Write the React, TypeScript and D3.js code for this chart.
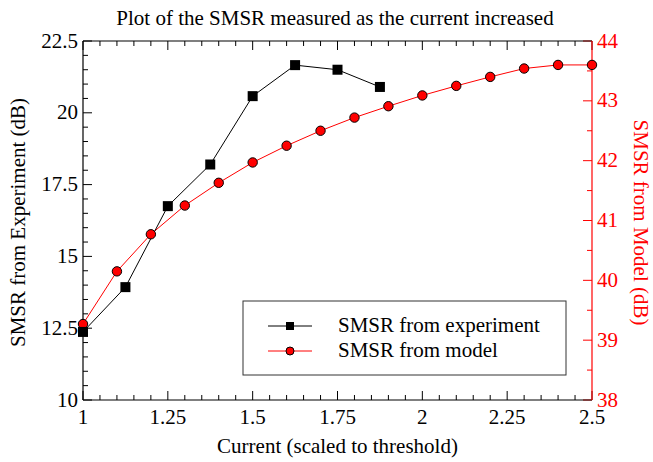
import React from "react";
import * as d3 from "d3";

const expCurrent = [1, 1.125, 1.25, 1.375, 1.5, 1.625, 1.75, 1.875];
const expSMSR = [12.37, 13.93, 16.75, 18.2, 20.58, 21.66, 21.5, 20.9];
const modelCurrent = [1, 1.1, 1.2, 1.3, 1.4, 1.5, 1.6, 1.7, 1.8, 1.9, 2.0, 2.1, 2.2, 2.3, 2.4, 2.5];
const modelSMSR = [39.27, 40.15, 40.77, 41.25, 41.63, 41.97, 42.25, 42.5, 42.72, 42.91, 43.09, 43.25, 43.4, 43.54, 43.6, 43.6];
const xTicks = [1, 1.25, 1.5, 1.75, 2, 2.25, 2.5];
const xTickLabels = ["1", "1.25", "1.5", "1.75", "2", "2.25", "2.5"];
const yLeftTicks = [10, 12.5, 15, 17.5, 20, 22.5];
const yLeftTickLabels = ["10", "12.5", "15", "17.5", "20", "22.5"];
const yRightTicks = [38, 39, 40, 41, 42, 43, 44];
const yRightTickLabels = ["38", "39", "40", "41", "42", "43", "44"];
const seriesNames = ["SMSR from experiment", "SMSR from model"];

const W = 653, H = 462;
const L = 83, R = 592, T = 41, B = 400;
const FONT = "'Liberation Serif', 'Times New Roman', serif";
const RED = "#ff0000";
const FS = 21;

export default function App() {
  const x = d3.scaleLinear().domain([1, 2.5]).range([L, R]);
  const yL = d3.scaleLinear().domain([10, 22.5]).range([B, T]);
  const yR = d3.scaleLinear().domain([38, 44]).range([B, T]);

  const expLine = d3.line<number>().x((_, i) => x(expCurrent[i])).y((d) => yL(d))(expSMSR) || "";
  const modLine = d3.line<number>().x((_, i) => x(modelCurrent[i])).y((d) => yR(d))(modelSMSR) || "";

  const xMinor = d3.range(0, 31).map((i) => 1 + i * 0.05);
  const yLMinor = d3.range(0, 26).map((i) => 10 + i * 0.5);
  const yRMinor = d3.range(0, 13).map((i) => 38 + i * 0.5);
  const isMajor = (v: number, step: number, base: number) => Math.abs(((v - base) / step) - Math.round((v - base) / step)) < 1e-6;

  const MAJ = 9, MIN = 5;
  const sq = 10;

  return (
    <svg width={W} height={H} style={{ position: "absolute", left: 0, top: 0, background: "#fff" }} fontFamily={FONT}>
      <rect x={0} y={0} width={W} height={H} fill="#fff" />
      <text x={335} y={25} textAnchor="middle" fontSize={FS} fill="#000">Plot of the SMSR measured as the current increased</text>

      {xMinor.map((v, i) => {
        const len = isMajor(v, 0.25, 1) ? MAJ : MIN;
        return (
          <g key={"xt" + i}>
            <line x1={x(v)} x2={x(v)} y1={B} y2={B - len} stroke="#000" strokeWidth={1} />
            <line x1={x(v)} x2={x(v)} y1={T} y2={T + len} stroke="#000" strokeWidth={1} />
          </g>
        );
      })}
      {yLMinor.map((v, i) => {
        const len = isMajor(v, 2.5, 10) ? MAJ : MIN;
        return <line key={"yl" + i} x1={L} x2={L + len} y1={yL(v)} y2={yL(v)} stroke="#000" strokeWidth={1} />;
      })}
      {yRMinor.map((v, i) => {
        const len = isMajor(v, 1, 38) ? MAJ : MIN;
        return <line key={"yr" + i} x1={R} x2={R - len} y1={yR(v)} y2={yR(v)} stroke={RED} strokeWidth={1} />;
      })}

      <line x1={L} x2={R} y1={T} y2={T} stroke="#000" strokeWidth={1.2} />
      <line x1={L} x2={R} y1={B} y2={B} stroke="#000" strokeWidth={1.2} />
      <line x1={L} x2={L} y1={T} y2={B} stroke="#000" strokeWidth={1.2} />
      <line x1={R} x2={R} y1={T} y2={B} stroke={RED} strokeWidth={1.2} />

      {xTicks.map((v, i) => (
        <text key={"xl" + i} x={x(v)} y={B + 24} textAnchor="middle" fontSize={FS} fill="#000">{xTickLabels[i]}</text>
      ))}
      {yLeftTicks.map((v, i) => (
        <text key={"yll" + i} x={L - 5} y={yL(v) + 6.5} textAnchor="end" fontSize={FS} fill="#000">{yLeftTickLabels[i]}</text>
      ))}
      {yRightTicks.map((v, i) => (
        <text key={"yrl" + i} x={R + 5} y={yR(v) + 6.5} textAnchor="start" fontSize={FS} fill={RED}>{yRightTickLabels[i]}</text>
      ))}

      <text x={(L + R) / 2} y={453} textAnchor="middle" fontSize={FS} fill="#000">Current (scaled to threshold)</text>
      <text transform={`translate(25, ${(T + B) / 2 + 2}) rotate(-90)`} textAnchor="middle" fontSize={FS} fill="#000">SMSR from Experiment (dB)</text>
      <text transform={`translate(634, ${(T + B) / 2 + 2}) rotate(90)`} textAnchor="middle" fontSize={FS} fill={RED}>SMSR from Model (dB)</text>

      <path d={modLine} fill="none" stroke={RED} strokeWidth={1} />
      <path d={expLine} fill="none" stroke="#000" strokeWidth={1} />
      {modelSMSR.map((v, i) => (
        <circle key={"mc" + i} cx={x(modelCurrent[i])} cy={yR(v)} r={4.7} fill={RED} stroke="#000" strokeWidth={1} />
      ))}
      {expSMSR.map((v, i) => (
        <rect key={"es" + i} x={x(expCurrent[i]) - sq / 2} y={yL(v) - sq / 2} width={sq} height={sq} fill="#000" />
      ))}

      <rect x={243} y={301} width={323} height={74} fill="#fff" stroke="#333" strokeWidth={1} />
      <line x1={268} x2={312} y1={326} y2={326} stroke="#000" strokeWidth={1} />
      <rect x={290 - 4} y={326 - 4} width={8} height={8} fill="#000" />
      <text x={338} y={332} fontSize={FS} fill="#000">{seriesNames[0]}</text>
      <line x1={268} x2={312} y1={351} y2={351} stroke={RED} strokeWidth={1} />
      <circle cx={290} cy={351} r={4} fill={RED} stroke="#000" strokeWidth={1} />
      <text x={338} y={357} fontSize={FS} fill="#000">{seriesNames[1]}</text>
    </svg>
  );
}
